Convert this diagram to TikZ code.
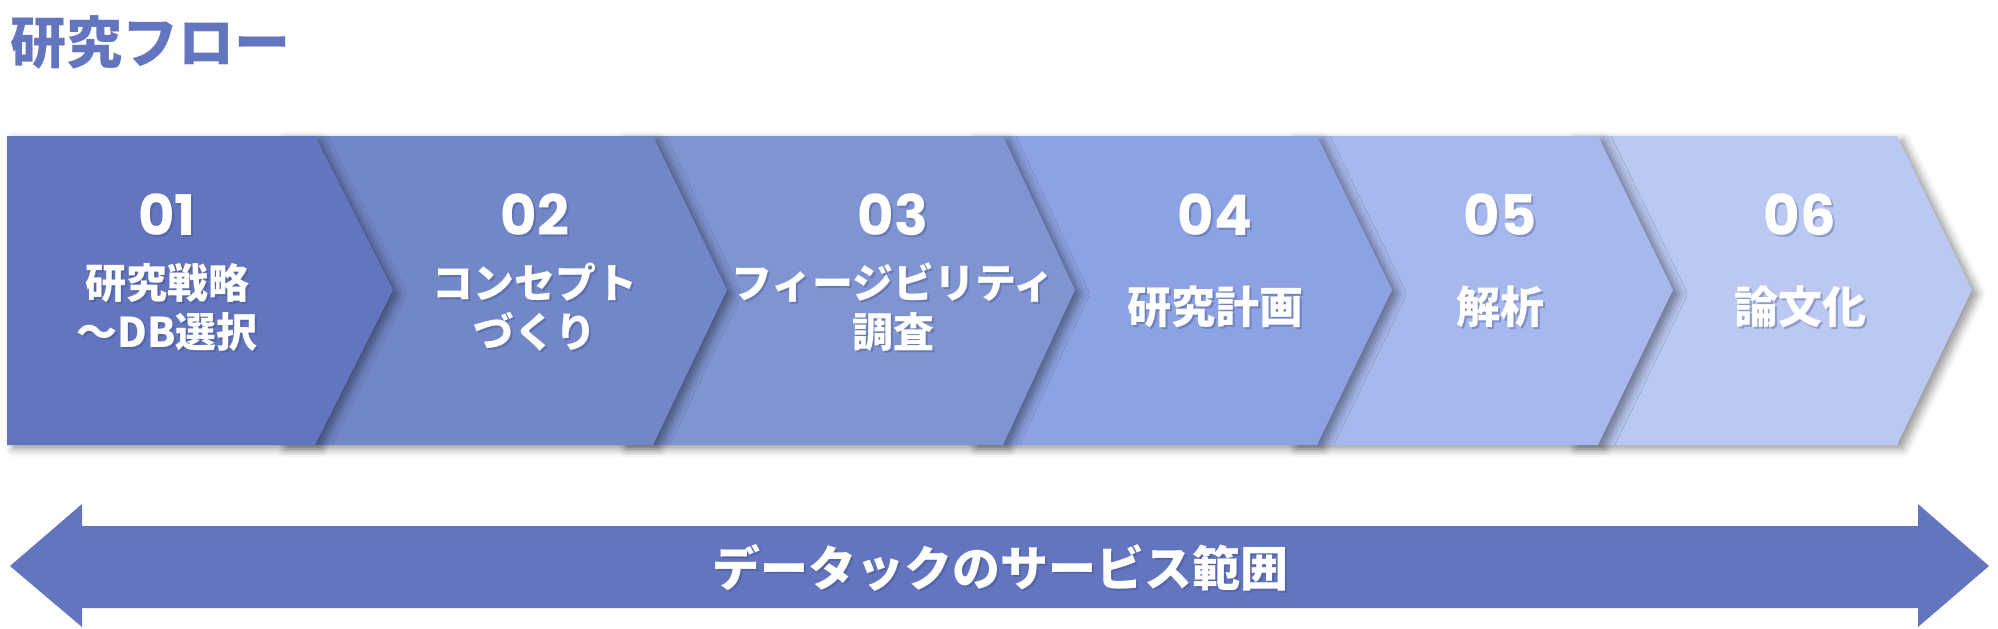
\documentclass[tikz,border=0pt]{standalone}
\usepackage{fontspec}
\newfontfamily\jpfont{Noto Sans CJK JP}
\newfontfamily\numfont{Poppins}
\usetikzlibrary{shadows.blur}

\definecolor{stepA}{HTML}{6275BE}
\definecolor{stepB}{HTML}{7287C8}
\definecolor{stepC}{HTML}{7F94D0}
\definecolor{stepD}{HTML}{8CA2E2}
\definecolor{stepE}{HTML}{A7B8EC}
\definecolor{stepF}{HTML}{BAC8F2}
\definecolor{txtshade}{HTML}{3A4A8A}

\tikzset{
  chev/.style={blur shadow={shadow xshift=3pt, shadow yshift=-2pt,
      shadow blur radius=4pt, shadow opacity=40}},
  num/.style={text=white, inner sep=0pt, anchor=base,
      font=\numfont\bfseries\fontsize{28}{30}\selectfont},
  lbl/.style={text=white, align=center, inner sep=0pt,
      font=\jpfont\bfseries\fontsize{22}{26}\selectfont},
  lbltwo/.style={lbl, font=\jpfont\bfseries\fontsize{20.5}{24.5}\selectfont},
  shade/.style={text=txtshade, opacity=0.35, xshift=1pt, yshift=-1pt},
}

\begin{document}
\begin{tikzpicture}[x=0.5pt,y=-0.5pt]
    \useasboundingbox (0,0) rectangle (1998,628);

    % タイトル
    \node[anchor=west, inner sep=0pt, text=stepA,
      font=\jpfont\bfseries\fontsize{28}{30}\selectfont] (title) at (10,42) {研究フロー};

    % 矢羽の上下と先端の高さ
    \def\yt{136}
    \def\yb{445}
    \def\ym{290}

    % 矢羽（右から順に描き、左のものを上に重ねる）
    \fill[stepF, chev] (1570,\yt) -- (1897,\yt) -- (1972,\ym) -- (1897,\yb) -- (1570,\yb) -- cycle;
    \fill[stepE, chev] (1290,\yt) -- (1598,\yt) -- (1673,\ym) -- (1598,\yb) -- (1290,\yb) -- cycle;
    \fill[stepD, chev] (970,\yt) -- (1317,\yt) -- (1392,\ym) -- (1317,\yb) -- (970,\yb) -- cycle;
    \fill[stepC, chev] (620,\yt) -- (1003,\yt) -- (1075,\ym) -- (1003,\yb) -- (620,\yb) -- cycle;
    \fill[stepB, chev] (280,\yt) -- (653,\yt) -- (727,\ym) -- (653,\yb) -- (280,\yb) -- cycle;
    \fill[stepA, chev] (7,\yt) -- (315,\yt) -- (393,\ym) -- (315,\yb) -- (7,\yb) -- cycle;

    % 番号
    \node[num, shade] at (167,235) {01};
    \node[num] (n1) at (167,235) {01};
    \node[num, shade] at (535,235) {02};
    \node[num] (n2) at (535,235) {02};
    \node[num, shade] at (893,235) {03};
    \node[num] (n3) at (893,235) {03};
    \node[num, shade] at (1215,235) {04};
    \node[num] (n4) at (1215,235) {04};
    \node[num, shade] at (1500,235) {05};
    \node[num] (n5) at (1500,235) {05};
    \node[num, shade] at (1800,235) {06};
    \node[num] (n6) at (1800,235) {06};

    % 各段階の名前
    \node[lbltwo, shade] at (167,307) {研究戦略\\～DB選択};
    \node[lbltwo] (s1) at (167,307) {研究戦略\\～DB選択};
    \node[lbltwo, shade] at (535,307) {コンセプト\\づくり};
    \node[lbltwo] (s2) at (535,307) {コンセプト\\づくり};
    \node[lbltwo, shade] at (893,307) {フィージビリティ\\調査};
    \node[lbltwo] (s3) at (893,307) {フィージビリティ\\調査};
    \node[lbl, shade] at (1215,307) {研究計画};
    \node[lbl] (s4) at (1215,307) {研究計画};
    \node[lbl, shade] at (1500,307) {解析};
    \node[lbl] (s5) at (1500,307) {解析};
    \node[lbl, shade] at (1800,307) {論文化};
    \node[lbl] (s6) at (1800,307) {論文化};

    % 下の両矢印
    \fill[stepA] (10,566) -- (82,504) -- (82,526) -- (1918,526) -- (1918,504)
      -- (1989,566) -- (1918,627) -- (1918,608) -- (82,608) -- (82,627) -- cycle;
    \node[lbl, shade, font=\jpfont\bfseries\fontsize{24}{28}\selectfont] at (1000,568) {データックのサービス範囲};
    \node[lbl, font=\jpfont\bfseries\fontsize{24}{28}\selectfont] (range) at (1000,568) {データックのサービス範囲};

\end{tikzpicture}
\end{document}
